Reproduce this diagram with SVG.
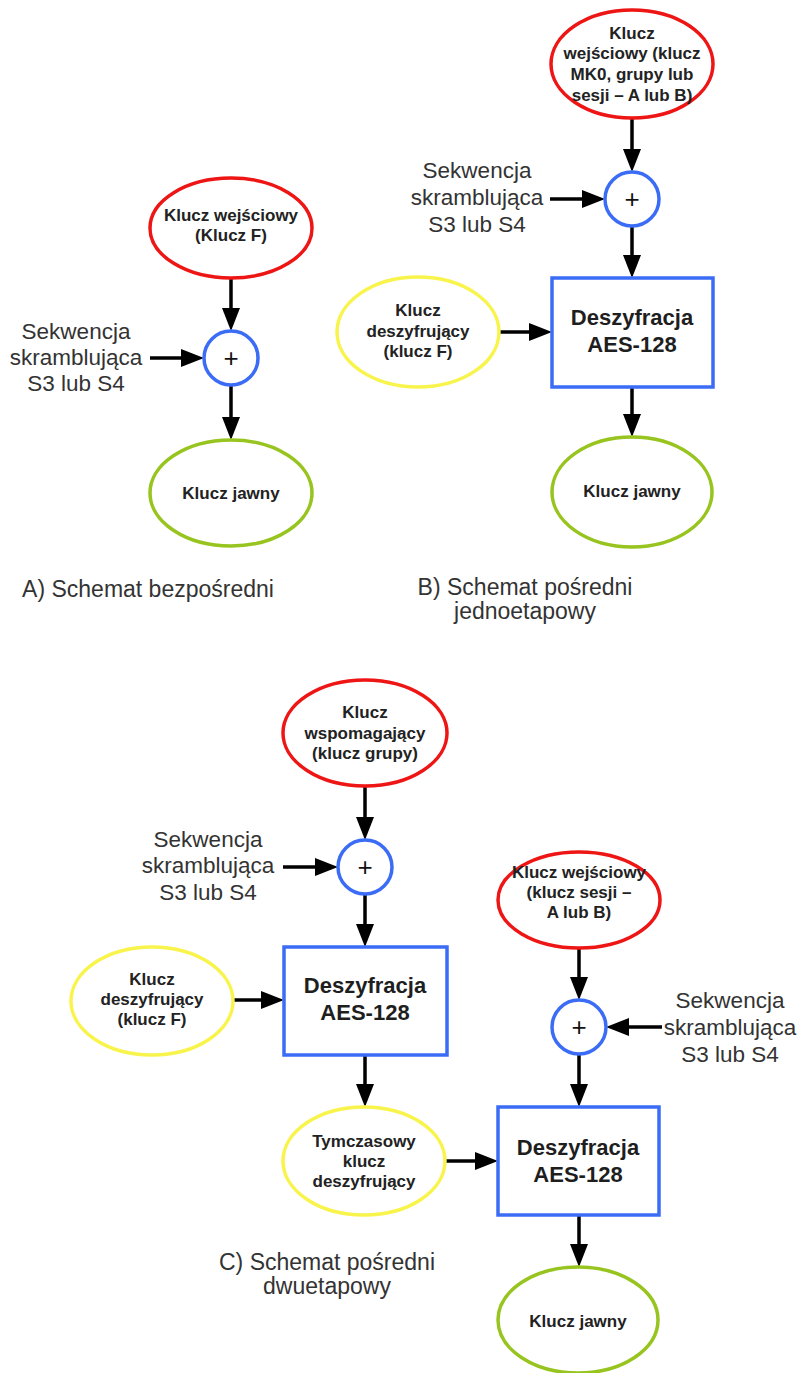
<svg xmlns="http://www.w3.org/2000/svg" width="801" height="1373" viewBox="0 0 801 1373">
  <style>
    .bg { fill: #ffffff; }
    .red { fill: #ffffff; stroke: #ee1515; stroke-width: 3.5; }
    .yel { fill: #ffffff; stroke: #f8f44c; stroke-width: 3.5; }
    .grn { fill: #ffffff; stroke: #97c41e; stroke-width: 3.5; }
    .blu { fill: #ffffff; stroke: #3b6cf6; stroke-width: 3.5; }
    .nt { font-family: "Liberation Sans", Arial, sans-serif; font-weight: bold; font-size: 17px; fill: #222222; text-anchor: middle; }
    .bt { font-family: "Liberation Sans", Arial, sans-serif; font-weight: bold; font-size: 22px; fill: #1e1e1e; text-anchor: middle; }
    .pl { font-family: "Liberation Sans", Arial, sans-serif; font-size: 26px; fill: #111111; text-anchor: middle; }
    .lb { font-family: "Liberation Sans", Arial, sans-serif; font-size: 22.5px; fill: #333333; text-anchor: middle; }
    .cap { font-family: "Liberation Sans", Arial, sans-serif; font-size: 23px; fill: #333333; text-anchor: middle; }
    .ar { stroke: #000000; stroke-width: 3.5; fill: none; marker-end: url(#head); }
  </style>
  <defs>
    <marker id="head" markerUnits="userSpaceOnUse" markerWidth="23" markerHeight="18" refX="11" refY="9" orient="auto">
      <path d="M0,0 L23,9 L0,18 Z" fill="#000000"/>
    </marker>
  </defs>
  <rect class="bg" x="0" y="0" width="801" height="1373"/>

  <!-- connectors -->
  <g id="connectors">
    <!-- A -->
    <line class="ar" x1="231" y1="279" x2="231" y2="319"/>
    <line class="ar" x1="150" y1="358" x2="192" y2="358"/>
    <line class="ar" x1="231" y1="385" x2="231" y2="428"/>
    <!-- B -->
    <line class="ar" x1="632" y1="118" x2="632" y2="160"/>
    <line class="ar" x1="550" y1="199" x2="593" y2="199"/>
    <line class="ar" x1="632" y1="226" x2="632" y2="266"/>
    <line class="ar" x1="500" y1="332" x2="540" y2="332"/>
    <line class="ar" x1="632" y1="387" x2="632" y2="425"/>
    <!-- C -->
    <line class="ar" x1="365" y1="787" x2="365" y2="828"/>
    <line class="ar" x1="283" y1="867" x2="326" y2="867"/>
    <line class="ar" x1="365" y1="894" x2="365" y2="935"/>
    <line class="ar" x1="233" y1="1000" x2="272" y2="1000"/>
    <line class="ar" x1="365" y1="1055" x2="365" y2="1095"/>
    <line class="ar" x1="579" y1="948" x2="579" y2="988"/>
    <line class="ar" x1="662" y1="1027" x2="618" y2="1027"/>
    <line class="ar" x1="579" y1="1054" x2="579" y2="1095"/>
    <line class="ar" x1="445" y1="1161" x2="486" y2="1161"/>
    <line class="ar" x1="579" y1="1215" x2="579" y2="1255"/>
  </g>

  <!-- A) direct scheme -->
  <g id="a-input">
    <ellipse class="red" cx="231" cy="228" rx="81" ry="50"/>
    <text class="nt" x="231" y="221">Klucz wejściowy</text>
    <text class="nt" x="231" y="241">(Klucz F)</text>
  </g>
  <g id="a-scramble">
    <text class="lb" x="76" y="339">Sekwencja</text>
    <text class="lb" x="76" y="365">skramblująca</text>
    <text class="lb" x="76" y="391">S3 lub S4</text>
  </g>
  <g id="a-xor">
    <circle class="blu" cx="231" cy="358" r="27"/>
    <text class="pl" x="231" y="367">+</text>
  </g>
  <g id="a-plain">
    <ellipse class="grn" cx="231" cy="493" rx="81" ry="53"/>
    <text class="nt" x="231" y="499">Klucz jawny</text>
  </g>
  <g id="a-caption">
    <text class="cap" x="148" y="597">A) Schemat bezpośredni</text>
  </g>

  <!-- B) one-stage indirect scheme -->
  <g id="b-input">
    <ellipse class="red" cx="632" cy="64" rx="81" ry="54"/>
    <text class="nt" x="632" y="39">Klucz</text>
    <text class="nt" x="632" y="59">wejściowy (klucz</text>
    <text class="nt" x="632" y="80">MK0, grupy lub</text>
    <text class="nt" x="632" y="101">sesji – A lub B)</text>
  </g>
  <g id="b-scramble">
    <text class="lb" x="477" y="178">Sekwencja</text>
    <text class="lb" x="477" y="205">skramblująca</text>
    <text class="lb" x="477" y="232">S3 lub S4</text>
  </g>
  <g id="b-xor">
    <circle class="blu" cx="632" cy="199" r="27"/>
    <text class="pl" x="632" y="208">+</text>
  </g>
  <g id="b-key">
    <ellipse class="yel" cx="418" cy="332" rx="81" ry="55"/>
    <text class="nt" x="418" y="316">Klucz</text>
    <text class="nt" x="418" y="337">deszyfrujący</text>
    <text class="nt" x="418" y="357">(klucz F)</text>
  </g>
  <g id="b-aes">
    <rect class="blu" x="552" y="278" width="161" height="109"/>
    <text class="bt" x="632" y="325">Deszyfracja</text>
    <text class="bt" x="632" y="352">AES-128</text>
  </g>
  <g id="b-plain">
    <ellipse class="grn" cx="632" cy="492" rx="80" ry="55"/>
    <text class="nt" x="632" y="497">Klucz jawny</text>
  </g>
  <g id="b-caption">
    <text class="cap" x="525" y="595">B) Schemat pośredni</text>
    <text class="cap" x="525" y="619">jednoetapowy</text>
  </g>

  <!-- C) two-stage indirect scheme -->
  <g id="c-aux">
    <ellipse class="red" cx="365" cy="733" rx="82" ry="53"/>
    <text class="nt" x="365" y="718">Klucz</text>
    <text class="nt" x="365" y="739">wspomagający</text>
    <text class="nt" x="365" y="759">(klucz grupy)</text>
  </g>
  <g id="c-scramble1">
    <text class="lb" x="208" y="847">Sekwencja</text>
    <text class="lb" x="208" y="873">skramblująca</text>
    <text class="lb" x="208" y="900">S3 lub S4</text>
  </g>
  <g id="c-xor1">
    <circle class="blu" cx="365" cy="867" r="27"/>
    <text class="pl" x="365" y="876">+</text>
  </g>
  <g id="c-key">
    <ellipse class="yel" cx="152" cy="1001" rx="81" ry="54"/>
    <text class="nt" x="152" y="985">Klucz</text>
    <text class="nt" x="152" y="1005">deszyfrujący</text>
    <text class="nt" x="152" y="1025">(klucz F)</text>
  </g>
  <g id="c-aes1">
    <rect class="blu" x="284" y="947" width="163" height="108"/>
    <text class="bt" x="365" y="993">Deszyfracja</text>
    <text class="bt" x="365" y="1020">AES-128</text>
  </g>
  <g id="c-temp">
    <ellipse class="yel" cx="364" cy="1161" rx="81" ry="54"/>
    <text class="nt" x="364" y="1147">Tymczasowy</text>
    <text class="nt" x="364" y="1167">klucz</text>
    <text class="nt" x="364" y="1187">deszyfrujący</text>
  </g>
  <g id="c-input">
    <ellipse class="red" cx="579" cy="900" rx="81" ry="48"/>
    <text class="nt" x="579" y="878">Klucz wejściowy</text>
    <text class="nt" x="579" y="898">(klucz sesji –</text>
    <text class="nt" x="579" y="918">A lub B)</text>
  </g>
  <g id="c-scramble2">
    <text class="lb" x="730" y="1008">Sekwencja</text>
    <text class="lb" x="730" y="1035">skramblująca</text>
    <text class="lb" x="730" y="1062">S3 lub S4</text>
  </g>
  <g id="c-xor2">
    <circle class="blu" cx="579" cy="1027" r="27"/>
    <text class="pl" x="579" y="1036">+</text>
  </g>
  <g id="c-aes2">
    <rect class="blu" x="498" y="1107" width="161" height="108"/>
    <text class="bt" x="578" y="1155">Deszyfracja</text>
    <text class="bt" x="578" y="1182">AES-128</text>
  </g>
  <g id="c-plain">
    <ellipse class="grn" cx="578" cy="1320" rx="80" ry="53"/>
    <text class="nt" x="578" y="1327">Klucz jawny</text>
  </g>
  <g id="c-caption">
    <text class="cap" x="327" y="1270">C) Schemat pośredni</text>
    <text class="cap" x="327" y="1294">dwuetapowy</text>
  </g>
</svg>
